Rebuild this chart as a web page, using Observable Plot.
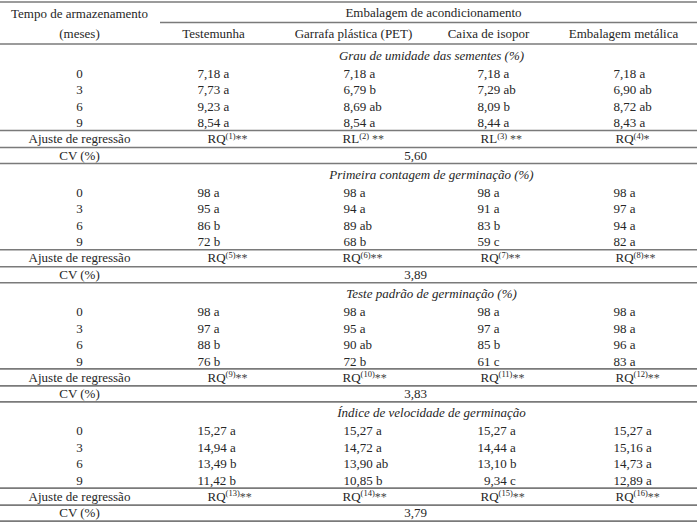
<!DOCTYPE html>
<html><head><meta charset="utf-8">
<script src="https://cdn.jsdelivr.net/npm/d3@7"></script>
<script src="https://cdn.jsdelivr.net/npm/@observablehq/plot@0.6"></script>
<style>body{margin:0;background:#fff}</style>
</head><body><div id="chart"></div>
<script>
// ---- data ----
const tempos = ["0", "3", "6", "9"];
const embalagens = ["Testemunha", "Garrafa plástica (PET)", "Caixa de isopor", "Embalagem metálica"];
const variaveis = ["Grau de umidade das sementes (%)", "Primeira contagem de germinação (%)", "Teste padrão de germinação (%)", "Índice de velocidade de germinação"];
const decimais = [2, 0, 0, 2];

// values per packaging (Testemunha, PET, Isopor, Metálica), per month (0,3,6,9)
const umidade = [[7.18, 7.73, 9.23, 8.54], [7.18, 6.79, 8.69, 8.54], [7.18, 7.29, 8.09, 8.44], [7.18, 6.90, 8.72, 8.43]];
const umidadeLetras = [["a","a","a","a"], ["a","b","ab","a"], ["a","ab","b","a"], ["a","ab","ab","a"]];
const primeiraContagem = [[98, 95, 86, 72], [98, 94, 89, 68], [98, 91, 83, 59], [98, 97, 94, 82]];
const primeiraLetras = [["a","a","b","b"], ["a","a","ab","b"], ["a","a","b","c"], ["a","a","a","a"]];
const testePadrao = [[98, 97, 88, 76], [98, 95, 90, 72], [98, 97, 85, 61], [98, 98, 96, 83]];
const testeLetras = [["a","a","b","b"], ["a","a","ab","b"], ["a","a","b","c"], ["a","a","a","a"]];
const ivg = [[15.27, 14.94, 13.49, 11.42], [15.27, 14.72, 13.90, 10.85], [15.27, 14.44, 13.10, 9.34], [15.27, 15.16, 14.73, 12.89]];
const ivgLetras = [["a","a","b","b"], ["a","a","ab","b"], ["a","a","b","c"], ["a","a","a","a"]];

const regressao = [["RQ","RL","RL","RQ"], ["RQ","RQ","RQ","RQ"], ["RQ","RQ","RQ","RQ"], ["RQ","RQ","RQ","RQ"]];
const significancia = [["**","**","**","*"], ["**","**","**","**"], ["**","**","**","**"], ["**","**","**","**"]];
const cv = ["5,60", "3,89", "3,83", "3,79"];

const valores = [umidade, primeiraContagem, testePadrao, ivg];
const letras = [umidadeLetras, primeiraLetras, testeLetras, ivgLetras];

// ---- layout (pixel positions of the table grid) ----
const W = 697, H = 526;
const leftX = 79;
const headX = [213, 353, 488, 623];
const valX = [197, 343, 477, 613];
const regX = [207, 342, 480, 615];
const midX = 431, cvX = 415, splitX = 160;
const secY = s => 55 + 119.2 * s;
const rowY = (s, i) => secY(s) + 18 + i * 16.5;

const cells = [], leftCells = [], regCells = [], titles = [], lines = [], cvCells = [];
let fn = 1;
variaveis.forEach((v, s) => {
  titles.push({s, text: v});
  tempos.forEach((t, i) => leftCells.push({x: leftX, y: rowY(s, i), text: t}));
  leftCells.push({x: leftX, y: secY(s) + 83.5, text: "Ajuste de regressão"});
  leftCells.push({x: leftX, y: secY(s) + 100, text: "CV (%)"});
  embalagens.forEach((e, j) => {
    tempos.forEach((t, i) => {
      const val = valores[s][j][i];
      let txt = val.toFixed(decimais[s]).replace(".", ",");
      if (decimais[s] === 2 && val < 10 && s === 3) txt = "\u00a0\u00a0" + txt;
      cells.push({x: valX[j], y: rowY(s, i), text: txt + " " + letras[s][j][i]});
    });
    const gap = regressao[s][j] === "RL" ? "\u00a0" : "";
    regCells.push({x: regX[j], y: secY(s) + 83.5, text: regressao[s][j] + "^(" + (fn++) + ")^" + gap + significancia[s][j]});
  });
  cvCells.push({x: cvX, y: secY(s) + 100, text: cv[s]});
  lines.push({y: secY(s) + 75, x1: 0, x2: W});
  lines.push({y: secY(s) + 92, x1: 0, x2: W});
  lines.push({y: secY(s) + 108, x1: 0, x2: W});
});
lines.push({y: 1.5, x1: 0, x2: W});
lines.push({y: 22, x1: splitX, x2: W});
lines.push({y: 43.5, x1: 0, x2: W});

const headerCells = [
  {x: leftX, y: 13, text: "Tempo de armazenamento"},
  {x: leftX, y: 33, text: "(meses)"},
  {x: midX + 2, y: 12, text: "Embalagem de acondicionamento"},
  ...embalagens.map((e, j) => ({x: headX[j], y: 33, text: e}))
];

const ink = "#262626";
const common = {fill: ink, fontSize: 13, lineAnchor: "middle"};

const chart = Plot.plot({
  width: W, height: H, margin: 0,
  x: {domain: [0, W], range: [0, W], axis: null},
  y: {domain: [0, H], range: [0, H], axis: null},
  style: {fontFamily: "'Liberation Serif', 'Times New Roman', serif", fontSize: "13px", background: "#fff"},
  marks: [
    Plot.ruleY(lines, {y: "y", x1: "x1", x2: "x2", stroke: "#7a7a7a", strokeWidth: 1.6}),
    Plot.text(headerCells, {x: "x", y: "y", text: "text", textAnchor: "middle", ...common}),
    Plot.text(titles, {x: () => midX, y: d => secY(d.s), text: "text", textAnchor: "middle", fontStyle: "italic", ...common}),
    Plot.text(leftCells, {x: "x", y: "y", text: "text", textAnchor: "middle", ...common}),
    Plot.text(cells, {x: "x", y: "y", text: "text", textAnchor: "start", ...common}),
    Plot.text(regCells, {x: "x", y: "y", text: "text", textAnchor: "start", ...common}),
    Plot.text(cvCells, {x: "x", y: "y", text: "text", textAnchor: "middle", ...common})
  ]
});

// superscript footnote markers
chart.querySelectorAll("text").forEach(t => {
  const s = t.textContent;
  if (!s.includes("^")) return;
  const [a, b, c] = s.split("^");
  t.textContent = "";
  const ns = "http://www.w3.org/2000/svg";
  const t1 = document.createElementNS(ns, "tspan"); t1.textContent = a;
  const t2 = document.createElementNS(ns, "tspan"); t2.textContent = b;
  t2.setAttribute("font-size", "8.5"); t2.setAttribute("dy", "-4.5");
  const t3 = document.createElementNS(ns, "tspan"); t3.textContent = c;
  t3.setAttribute("font-size", "12"); t3.setAttribute("dy", "4.5"); t3.setAttribute("fill", "#444");
  t.append(t1, t2, t3);
});

document.getElementById("chart").append(chart);
</script>
</body></html>
